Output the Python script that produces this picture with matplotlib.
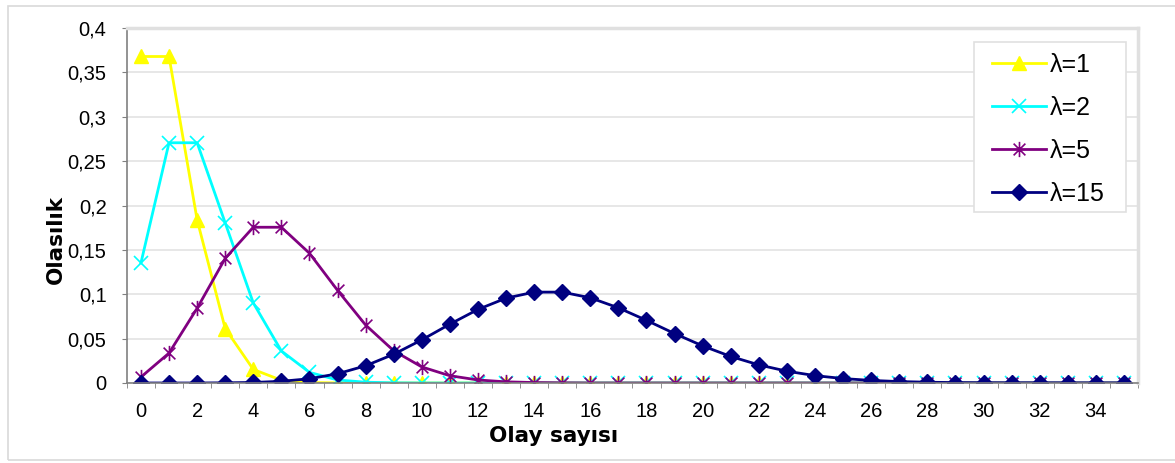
import numpy as np
import matplotlib
matplotlib.use("Agg")
import matplotlib.pyplot as plt
from matplotlib.path import Path
from matplotlib.ticker import FixedLocator, FuncFormatter, MultipleLocator

# olay sayisi 0..35
k = list(range(36))

p_l1 = [0.3679, 0.3679, 0.1839, 0.0613, 0.0153, 0.0031, 0.0005, 0.0001] + [0.0] * 28
p_l2 = [0.1353, 0.2707, 0.2707, 0.1804, 0.0902, 0.0361, 0.0120, 0.0034,
        0.0009, 0.0002, 0.0000] + [0.0] * 25
p_l5 = [0.0067, 0.0337, 0.0842, 0.1404, 0.1755, 0.1755, 0.1462, 0.1044,
        0.0653, 0.0363, 0.0181, 0.0082, 0.0034, 0.0013, 0.0005, 0.0002,
        0.0000, 0.0000] + [0.0] * 18
p_l15 = [0.0000, 0.0000, 0.0000, 0.0002, 0.0006, 0.0019, 0.0048, 0.0104,
         0.0194, 0.0324, 0.0486, 0.0663, 0.0829, 0.0956, 0.1024, 0.1024,
         0.0960, 0.0847, 0.0706, 0.0557, 0.0418, 0.0299, 0.0204, 0.0133,
         0.0083, 0.0050, 0.0029, 0.0016, 0.0009, 0.0004, 0.0002, 0.0001,
         0.0001, 0.0000, 0.0000, 0.0000]

labels = ["λ=1", "λ=2", "λ=5", "λ=15"]
colors = ["#FFFF00", "#00FFFF", "#800080", "#000080"]

# yildiz isaretci: x + dikey cizgi
star = Path([(-1, -1), (1, 1), (-1, 1), (1, -1), (0, -1.3), (0, 1.3)],
            [Path.MOVETO, Path.LINETO, Path.MOVETO, Path.LINETO, Path.MOVETO, Path.LINETO])

plt.rcParams['font.family'] = ['Liberation Sans', 'DejaVu Sans']

W, H = 1175, 463
fig = plt.figure(figsize=(W / 100, H / 100), dpi=100)
ax = fig.add_axes([0.108, 0.1728, 0.8605, 0.7667])


def px(x, y, w, h):
    # piksel (sol-ust) -> figur koordinati
    return (x / W, 1 - (y + h) / H), w / W, h / H


# grafik alani cercevesi
xy, w, h = px(8, 6, 1200, 454)
fig.patches.append(plt.Rectangle(xy, w, h, transform=fig.transFigure,
                                 fill=False, edgecolor="#d9d9d9", lw=1.2))

ax.plot(k, p_l1, color=colors[0], lw=2, marker="^", ms=10, label=labels[0])
ax.plot(k, p_l2, color=colors[1], lw=2, marker="x", ms=10, mew=1.2, label=labels[1])
ax.plot(k, p_l5, color=colors[2], lw=2, marker=star, ms=11, mew=1.2, label=labels[2])
ax.plot(k, p_l15, color=colors[3], lw=2, marker="D", ms=8, label=labels[3])

ax.set_xlim(-0.5, 35.5)
ax.set_ylim(0, 0.4)

ax.xaxis.set_major_locator(FixedLocator(list(range(0, 35, 2))))
ax.xaxis.set_minor_locator(FixedLocator([i + 0.5 for i in range(-1, 36)]))
ax.tick_params(axis="x", which="major", length=0, labelsize=14.5, pad=14)
ax.tick_params(axis="x", which="minor", length=3.6, color="#808080", direction="out")
ax.yaxis.set_major_locator(MultipleLocator(0.05))
ax.yaxis.set_major_formatter(FuncFormatter(lambda v, _: f"{v:.2f}".rstrip("0").rstrip(".").replace(".", ",")))
ax.tick_params(axis="y", length=3.6, color="#808080", labelsize=14.5, pad=11)

ax.grid(axis="y", color="#e3e3e3", lw=1.2)
ax.set_axisbelow(True)
for side in ["top", "right"]:
    ax.spines[side].set_color("#e0e0e0")
    ax.spines[side].set_linewidth(2.5)
for side in ["left", "bottom"]:
    ax.spines[side].set_color("#808080")
    ax.spines[side].set_linewidth(1.2)

ax.set_xlabel("Olay sayısı", fontsize=15.5, fontweight="bold", family="DejaVu Sans")
ax.set_ylabel("Olasılık", fontsize=15.5, fontweight="bold", family="DejaVu Sans")
ax.xaxis.set_label_coords(0.4224, -0.1210)
ax.yaxis.set_label_coords(-0.060, 0.4056)

# lejant: cerceve ayri ciziliyor
xy, w, h = px(974, 42, 152, 170)
ax.add_patch(plt.Rectangle(xy, w, h, transform=fig.transFigure, clip_on=False,
                           facecolor="white", edgecolor="#e0e0e0", lw=1.2, zorder=4))
ax.legend(loc="upper left", bbox_to_anchor=((992 - 127) / 1011, (383 - 53) / 355),
          borderaxespad=0, borderpad=0, frameon=False, fontsize=18,
          handlelength=2.15, labelspacing=0.76, handletextpad=0.16)

fig.savefig("out.png", dpi=100)
